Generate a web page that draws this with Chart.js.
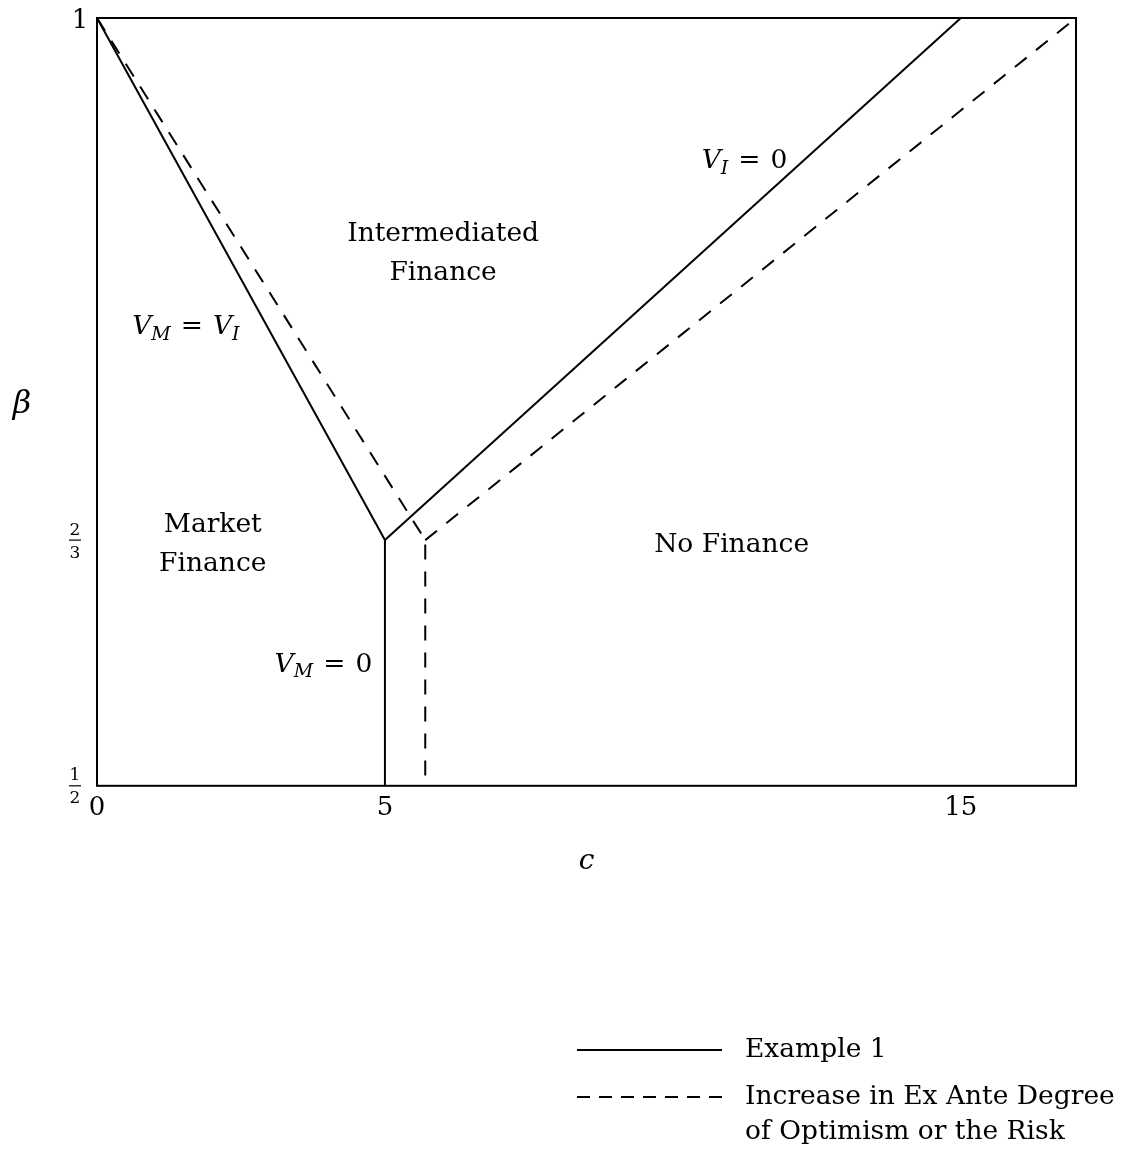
<!DOCTYPE html>
<html>
<head>
<meta charset="utf-8">
<script src="https://cdn.jsdelivr.net/npm/chart.js@4.4.1/dist/chart.umd.min.js"></script>
<style>
  html, body { margin: 0; padding: 0; background: #fff; }
  #chart { display: block; }
</style>
</head>
<body>
<canvas id="chart" width="1130" height="1155"></canvas>
<script>
// Region boundaries, (c, beta) vertices
const exampleLeftC = [0, 5, 5];
const exampleLeftBeta = [1, 0.66, 0.5];
const exampleRightC = [5, 15];
const exampleRightBeta = [0.66, 1];

const optimismLeftC = [0, 5.7, 5.7];
const optimismLeftBeta = [1, 0.66, 0.5];
const optimismRightC = [5.7, 17];
const optimismRightBeta = [0.66, 1];

const xTickValues = [0, 5, 15];
const yTickValues = [0.5, 0.66, 1];
const yTickLabels = [['1', '2'], ['2', '3'], ['1']];

const seriesNames = ['Example 1', 'Increase in Ex Ante Degree\nof Optimism or the Risk'];

const SERIF = '"DejaVu Serif", "Liberation Serif", serif';
const TEXT_SIZE = 26.5;
const DASH = [15, 12];

const toPoints = (xs, ys) => xs.map((x, i) => ({ x, y: ys[i] }));

const lineDataset = (label, xs, ys, dashed) => ({
  label,
  data: toPoints(xs, ys),
  showLine: true,
  borderColor: '#000',
  borderWidth: 2,
  borderDash: dashed ? DASH : [],
  pointRadius: 0,
  tension: 0,
  fill: false,
  clip: false,
});

// draws runs like V_M = V_I ; sub runs are smaller and dropped
function drawRuns(ctx, runs, x, y, size, align) {
  const fontFor = (r) => {
    const s = r.sub ? Math.round(size * 0.7) : size;
    return `${r.italic ? 'italic ' : ''}${s}px ${SERIF}`;
  };
  const widthOf = (r) => {
    ctx.font = fontFor(r);
    return ctx.measureText(r.t).width + (r.gap || 0) * 2;
  };
  const total = runs.reduce((sum, r) => sum + widthOf(r), 0);
  let cx = align === 'center' ? x - total / 2 : align === 'right' ? x - total : x;
  ctx.textAlign = 'left';
  ctx.textBaseline = 'alphabetic';
  runs.forEach((r) => {
    ctx.font = fontFor(r);
    ctx.fillText(r.t, cx + (r.gap || 0), r.sub ? y + size * 0.2 : y);
    cx += widthOf(r);
  });
}

const V = { t: 'V', italic: true };
const sub = (t) => ({ t, italic: true, sub: true });
const EQ = { t: '=', gap: 10 };
const ZERO = { t: '0' };

// text anchors in data units (c, beta), at the text baseline
const regionLabels = [
  { c: 6.01, beta: 0.855, lines: ['Intermediated', 'Finance'] },
  { c: 2.01, beta: 0.665, lines: ['Market', 'Finance'] },
  { c: 11.02, beta: 0.652, lines: ['No Finance'] },
];
const curveLabels = [
  { c: 0.61, beta: 0.794, align: 'left', runs: [V, sub('M'), EQ, V, sub('I')] },
  { c: 10.5, beta: 0.902, align: 'left', runs: [V, sub('I'), EQ, ZERO] },
  { c: 4.78, beta: 0.574, align: 'right', runs: [V, sub('M'), EQ, ZERO] },
];

const annotatePlugin = {
  id: 'annotatePlugin',
  afterDraw: (chart) => {
    const { ctx, chartArea, scales } = chart;
    const xs = scales.x;
    const ys = scales.y;
    ctx.save();
    ctx.fillStyle = '#000';
    ctx.strokeStyle = '#000';

    // frame
    ctx.lineWidth = 2;
    ctx.setLineDash([]);
    ctx.strokeRect(chartArea.left, chartArea.top,
      chartArea.right - chartArea.left, chartArea.bottom - chartArea.top);

    // y tick labels (fractions)
    yTickValues.forEach((v, i) => {
      const py = ys.getPixelForValue(v);
      const lab = yTickLabels[i];
      ctx.textAlign = 'center';
      ctx.textBaseline = 'middle';
      if (lab.length === 1) {
        ctx.font = `26px ${SERIF}`;
        ctx.fillText(lab[0], chartArea.left - 17, py + 3);
      } else {
        const cx = chartArea.left - 22;
        ctx.font = `17px ${SERIF}`;
        ctx.fillText(lab[0], cx, py - 10);
        ctx.fillText(lab[1], cx, py + 13);
        ctx.lineWidth = 1.2;
        ctx.beginPath();
        ctx.moveTo(cx - 6, py);
        ctx.lineTo(cx + 6, py);
        ctx.stroke();
      }
    });

    // axis titles
    ctx.textAlign = 'center';
    ctx.textBaseline = 'middle';
    ctx.font = `italic 32px ${SERIF}`;
    ctx.fillText('\u03b2', 22, ys.getPixelForValue(0.75) + 3);
    ctx.font = `italic 28px ${SERIF}`;
    ctx.fillText('c', xs.getPixelForValue(8.5), 862);

    // region names
    ctx.font = `${TEXT_SIZE}px ${SERIF}`;
    ctx.textAlign = 'center';
    ctx.textBaseline = 'alphabetic';
    regionLabels.forEach((r) => {
      const px = xs.getPixelForValue(r.c);
      const py = ys.getPixelForValue(r.beta);
      r.lines.forEach((line, k) => {
        ctx.fillText(line, px, py + k * 39);
      });
    });

    // curve names
    curveLabels.forEach((l) => {
      drawRuns(ctx, l.runs, xs.getPixelForValue(l.c), ys.getPixelForValue(l.beta), TEXT_SIZE, l.align);
    });

    // legend
    const legX = 577, legW = 145, textX = 745;
    const rows = [1050, 1097];
    ctx.lineWidth = 2;
    rows.forEach((ry, i) => {
      ctx.setLineDash(i === 0 ? [] : [13, 9]);
      ctx.beginPath();
      ctx.moveTo(legX, ry);
      ctx.lineTo(legX + legW, ry);
      ctx.stroke();
      ctx.setLineDash([]);
      ctx.font = `26.5px ${SERIF}`;
      ctx.textAlign = 'left';
      ctx.textBaseline = 'middle';
      seriesNames[i].split('\n').forEach((line, k) => {
        ctx.fillText(line, textX, ry + k * 35);
      });
    });
    ctx.restore();
  },
};

new Chart(document.getElementById('chart'), {
  type: 'scatter',
  data: {
    datasets: [
      lineDataset(seriesNames[0], exampleLeftC, exampleLeftBeta, false),
      lineDataset(seriesNames[0], exampleRightC, exampleRightBeta, false),
      lineDataset(seriesNames[1], optimismLeftC, optimismLeftBeta, true),
      lineDataset(seriesNames[1], optimismRightC, optimismRightBeta, true),
    ],
  },
  options: {
    responsive: false,
    animation: false,
    devicePixelRatio: 1,
    layout: { padding: { left: 97, right: 54, top: 18, bottom: 324 } },
    plugins: {
      legend: { display: false },
      tooltip: { enabled: false },
    },
    scales: {
      x: {
        type: 'linear',
        min: 0,
        max: 17,
        afterBuildTicks: (scale) => {
          scale.ticks = xTickValues.map((value) => ({ value }));
        },
        grid: { display: false, drawTicks: false },
        border: { display: false },
        ticks: {
          color: '#000',
          padding: 7,
          maxRotation: 0,
          font: { family: SERIF, size: 26 },
        },
      },
      y: {
        type: 'linear',
        min: 0.5,
        max: 1,
        afterBuildTicks: (scale) => {
          scale.ticks = yTickValues.map((value) => ({ value }));
        },
        grid: { display: false, drawTicks: false },
        border: { display: false },
        ticks: { display: false },
      },
    },
  },
  plugins: [annotatePlugin],
});
</script>
</body>
</html>
